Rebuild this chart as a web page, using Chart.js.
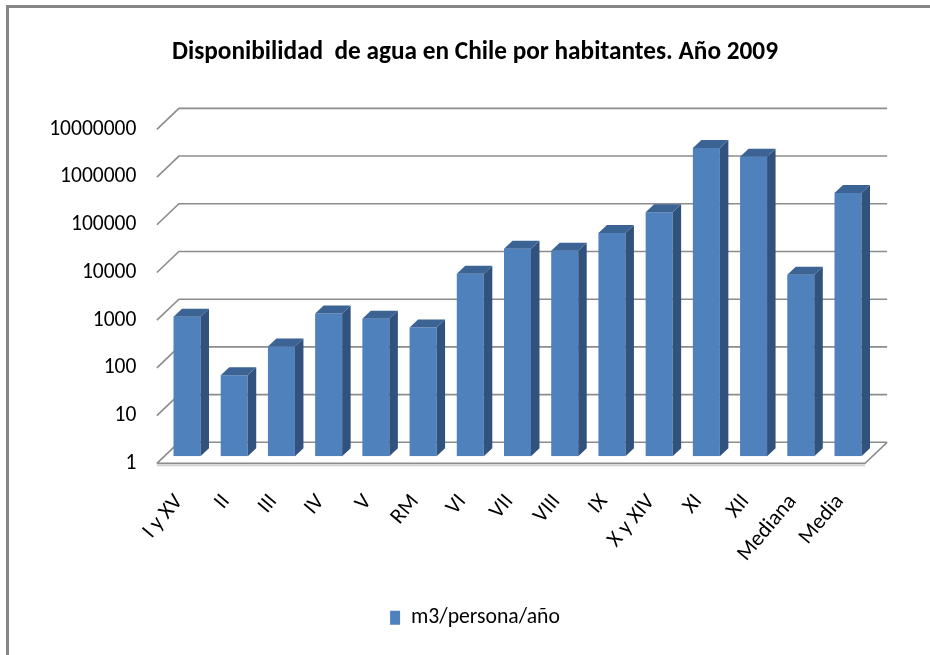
<!DOCTYPE html>
<html>
<head>
<meta charset="utf-8">
<script src="https://cdn.jsdelivr.net/npm/chart.js@4.4.1/dist/chart.umd.min.js"></script>
<style>
  html, body { margin: 0; padding: 0; background: #ffffff; }
  #chart { display: block; }
</style>
</head>
<body>
<canvas id="chart" width="930" height="655"></canvas>
<script>
// Regions of Chile plus the median and mean
const categories = ['I y XV', 'II', 'III', 'IV', 'V', 'RM', 'VI', 'VII', 'VIII', 'IX', 'X y XIV', 'XI', 'XII', 'Mediana', 'Media'];

// Water availability per inhabitant, m3/persona/año (2009)
const waterPerPerson = [840, 50, 200, 980, 760, 500, 6700, 22400, 20400, 48000, 130000, 2900000, 1900000, 6400, 330000];

// Decade ticks on the logarithmic axis
const yTickValues = [1, 10, 100, 1000, 10000, 100000, 1000000, 10000000];

const FONT = 'Carlito, Calibri, "Liberation Sans", sans-serif';

// Oblique 3D geometry (pixels) relative to the plane the bar fronts sit on
const FRONT = { dx: -6.5, dy: 7 };    // front edge of floor / wall
const BACK = { dx: 15.5, dy: -14 };   // back wall
const DEPTH = { dx: 8.5, dy: -8 };    // thickness of each column

const frame3d = {
  id: 'frame3d',
  beforeDraw(chart) {
    const ctx = chart.ctx;
    ctx.save();
    ctx.fillStyle = '#ffffff';
    ctx.fillRect(0, 0, chart.width, chart.height);
    // outer chart border
    ctx.strokeStyle = '#868686';
    ctx.lineWidth = 3;
    ctx.strokeRect(7.5, 6.5, chart.width + 20, chart.height + 20);
    ctx.restore();
  },
  beforeDatasetsDraw(chart) {
    const ctx = chart.ctx;
    const { left, right } = chart.chartArea;
    const y = chart.scales.y;
    ctx.save();
    ctx.lineJoin = 'miter';
    // floor
    const y0 = y.getPixelForValue(1);
    ctx.beginPath();
    ctx.moveTo(left + FRONT.dx, y0 + FRONT.dy);
    ctx.lineTo(right + FRONT.dx, y0 + FRONT.dy);
    ctx.lineTo(right + BACK.dx, y0 + BACK.dy);
    ctx.lineTo(left + BACK.dx, y0 + BACK.dy);
    ctx.closePath();
    ctx.fillStyle = '#ffffff';
    ctx.fill();
    // floor thickness below the front edge
    ctx.strokeStyle = '#d0d0d0';
    ctx.lineWidth = 2;
    ctx.beginPath();
    ctx.moveTo(left + FRONT.dx, y0 + FRONT.dy + 2);
    ctx.lineTo(right + FRONT.dx, y0 + FRONT.dy + 2);
    ctx.stroke();
    ctx.strokeStyle = '#8c8c8c';
    ctx.lineWidth = 1.6;
    ctx.beginPath();
    ctx.moveTo(left + FRONT.dx, y0 + FRONT.dy);
    ctx.lineTo(right + FRONT.dx, y0 + FRONT.dy);
    ctx.lineTo(right + BACK.dx, y0 + BACK.dy);
    ctx.stroke();
    // gridlines: along the left side, then across the back wall
    yTickValues.forEach(v => {
      const py = y.getPixelForValue(v);
      ctx.beginPath();
      ctx.moveTo(left + FRONT.dx, py + FRONT.dy);
      ctx.lineTo(left + BACK.dx, py + BACK.dy);
      ctx.lineTo(right + BACK.dx, py + BACK.dy);
      ctx.strokeStyle = '#8c8c8c';
      ctx.lineWidth = 1.6;
      ctx.stroke();
    });
    ctx.restore();
  },
  afterDatasetsDraw(chart) {
    const ctx = chart.ctx;
    const meta = chart.getDatasetMeta(0);
    ctx.save();
    meta.data.forEach(bar => {
      const { x, y, width, base } = bar.getProps(['x', 'y', 'width', 'base'], true);
      const l = x - width / 2, r = x + width / 2;
      // side face
      ctx.beginPath();
      ctx.moveTo(r, y);
      ctx.lineTo(r + DEPTH.dx, y + DEPTH.dy);
      ctx.lineTo(r + DEPTH.dx, base + DEPTH.dy);
      ctx.lineTo(r, base);
      ctx.closePath();
      ctx.fillStyle = '#31527c';
      ctx.fill();
      // top face
      ctx.beginPath();
      ctx.moveTo(l, y);
      ctx.lineTo(l + DEPTH.dx, y + DEPTH.dy);
      ctx.lineTo(r + DEPTH.dx, y + DEPTH.dy);
      ctx.lineTo(r, y);
      ctx.closePath();
      ctx.fillStyle = '#3b6394';
      ctx.fill();
    });
    ctx.restore();
  }
};

new Chart(document.getElementById('chart'), {
  type: 'bar',
  data: {
    labels: categories,
    datasets: [{
      label: 'm3/persona/año',
      data: waterPerPerson,
      backgroundColor: '#4f81bd',
      borderWidth: 0,
      barPercentage: 0.572,
      categoryPercentage: 1
    }]
  },
  options: {
    responsive: false,
    animation: false,
    devicePixelRatio: 1,
    layout: { padding: { left: 30, right: 10, top: 0, bottom: 16.5 } },
    plugins: {
      title: {
        display: true,
        text: 'Disponibilidad  de agua en Chile por habitantes. Año 2009',
        color: '#000000',
        font: { family: FONT, size: 25.3, weight: 'bold' },
        padding: { top: 37.8, bottom: 54.2 }
      },
      legend: {
        position: 'bottom',
        labels: {
          boxWidth: 10,
          boxHeight: 14,
          color: '#000000',
          font: { family: FONT, size: 21.7 }
        }
      },
      tooltip: { enabled: false }
    },
    scales: {
      x: {
        grid: { display: false, drawTicks: false },
        border: { display: false },
        ticks: {
          autoSkip: false,
          minRotation: 50,
          maxRotation: 50,
          padding: 33,
          labelOffset: -8,
          color: '#000000',
          font: { family: FONT, size: 22 }
        },
        afterFit(scale) { scale.height = 140.5; }
      },
      y: {
        type: 'logarithmic',
        min: 1,
        max: 10000000,
        grid: { display: false, drawTicks: false },
        border: { display: false },
        afterBuildTicks(scale) {
          scale.ticks = yTickValues.map(v => ({ value: v }));
        },
        afterFit(scale) { scale.width = 133.4; },
        ticks: {
          autoSkip: false,
          padding: 27,
          labelOffset: 7,
          color: '#000000',
          font: { family: FONT, size: 21.5 },
          callback: v => String(v)
        }
      },
      // empty right-hand gutter that keeps the plot and the centred title/legend in place
      gutter: {
        type: 'linear',
        position: 'right',
        grid: { display: false, drawTicks: false },
        border: { display: false },
        ticks: { display: false },
        afterFit(scale) { scale.width = 48.4; }
      }
    }
  },
  plugins: [frame3d]
});
</script>
</body>
</html>
